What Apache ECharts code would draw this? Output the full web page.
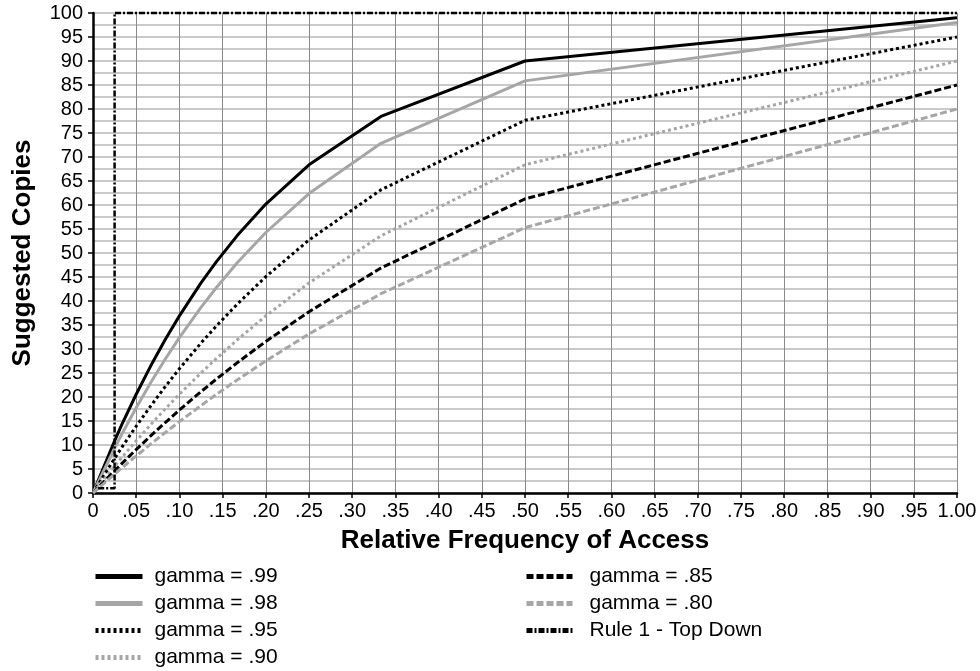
<!DOCTYPE html>
<html>
<head>
<meta charset="utf-8">
<script src="https://cdn.jsdelivr.net/npm/echarts@6/dist/echarts.min.js"></script>
<style>
html,body{margin:0;padding:0;background:#fff;}
#chart{width:980px;height:671px;}
</style>
</head>
<body>
<div id="chart"></div>
<script>
// Relative frequency of access (x) sample points
var freqs = [0, 0.025, 0.0333, 0.05, 0.0667, 0.0833, 0.1, 0.125, 0.1429, 0.1667, 0.2, 0.25, 0.3333, 0.5, 1];
// Suggested copies per gamma
var g99 = [0, 10.87, 14.23, 20.57, 26.44, 31.87, 36.90, 43.77, 48.21, 53.58, 60.19, 68.38, 78.46, 90.00, 99.00];
var g98 = [0, 9.32, 12.23, 17.77, 22.96, 27.82, 32.38, 38.67, 42.81, 47.90, 54.27, 62.39, 72.86, 85.86, 98.00];
var g95 = [0, 7.22, 9.50, 13.91, 18.10, 22.09, 25.89, 31.24, 34.82, 39.30, 45.07, 52.71, 63.16, 77.64, 95.00];
var g90 = [0, 5.59, 7.39, 10.87, 14.23, 17.46, 20.57, 25.01, 28.03, 31.87, 36.90, 43.77, 53.58, 68.38, 90.00];
var g85 = [0, 4.63, 6.13, 9.05, 11.88, 14.62, 17.28, 21.11, 23.74, 27.11, 31.57, 37.77, 46.87, 61.27, 85.00];
var g80 = [0, 3.94, 5.22, 7.73, 10.17, 12.55, 14.87, 18.22, 20.54, 23.53, 27.52, 33.13, 41.52, 55.28, 80.00];
// Rule 1 - Top Down
var ruleX = [0.006, 0.025, 0.025, 1];
var ruleY = [1, 1, 100, 100];

var names = ['gamma = .99', 'gamma = .98', 'gamma = .95', 'gamma = .90', 'gamma = .85', 'gamma = .80', 'Rule 1 - Top Down'];

function pairs(xs, ys) { return xs.map(function (x, i) { return [x, ys[i]]; }); }

var FONT = '"Liberation Sans", Arial, sans-serif';
var GRAY = '#a6a6a6';

function lineSeries(name, ys, color, type, width) {
  return {
    name: name, type: 'line', data: pairs(freqs, ys),
    symbol: 'none', showSymbol: false, silent: true,
    lineStyle: { color: color, width: width, type: type, cap: 'butt' },
    itemStyle: { color: color }
  };
}

var legendCommon = {
  orient: 'vertical', top: 566, padding: 0,
  itemHeight: 14, itemGap: 6, selectedMode: false,
  itemStyle: { opacity: 0 },
  lineStyle: { width: 5 }
};

var chart = echarts.init(document.getElementById('chart'), null, { renderer: 'canvas' });
chart.setOption({
  animation: false,
  backgroundColor: '#fff',
  textStyle: { fontFamily: FONT },
  grid: { left: 93, right: 23, top: 13, bottom: 178, containLabel: false },
  xAxis: {
    type: 'value', min: 0, max: 1, interval: 0.05,
    name: 'Relative Frequency of Access', nameLocation: 'middle', nameGap: 35,
    nameTextStyle: { fontSize: 26, fontWeight: 'bold', color: '#000', fontFamily: FONT },
    axisLine: { show: true, onZero: false, lineStyle: { color: '#000', width: 2.5 } },
    axisTick: { show: true, length: 5, lineStyle: { color: '#000', width: 1.5 } },
    axisLabel: {
      color: '#000', fontSize: 20, margin: 8, fontFamily: FONT, showMaxLabel: true, showMinLabel: true,
      formatter: function (v) {
        if (Math.abs(v) < 1e-9) return '0';
        if (Math.abs(v - 1) < 1e-9) return '1.00';
        var s = Math.round(v * 100);
        return '.' + (s < 10 ? '0' + s : '' + s);
      }
    },
    splitLine: { show: true, lineStyle: { color: '#8a8a8a', width: 1 } }
  },
  yAxis: {
    type: 'value', min: 0, max: 100, interval: 5,
    name: 'Suggested Copies', nameLocation: 'middle', nameGap: 57,
    nameTextStyle: { fontSize: 26, fontWeight: 'bold', color: '#000', fontFamily: FONT },
    axisLine: { show: true, lineStyle: { color: '#000', width: 2.5 } },
    axisTick: { show: true, length: 5, lineStyle: { color: '#000', width: 1.5 } },
    axisLabel: { color: '#000', fontSize: 20, margin: 10, fontFamily: FONT },
    splitLine: { show: true, lineStyle: { color: '#b8b8b8', width: 1.5 } },
    minorTick: { show: false, splitNumber: 2 },
    minorSplitLine: { show: true, lineStyle: { color: '#b8b8b8', width: 1.5 } }
  },
  legend: [
    Object.assign({}, legendCommon, {
      data: names.slice(0, 4), left: 93, itemWidth: 47,
      textStyle: { fontSize: 21, lineHeight: 20, color: '#000', fontFamily: FONT, padding: [0, 0, 0, 7] }
    }),
    Object.assign({}, legendCommon, {
      data: names.slice(4), left: 524, itemWidth: 46,
      textStyle: { fontSize: 21, lineHeight: 20, color: '#000', fontFamily: FONT, padding: [0, 0, 0, 12] }
    })
  ],
  series: [
    lineSeries(names[0], g99, '#000', 'solid', 3),
    lineSeries(names[1], g98, GRAY, 'solid', 3),
    lineSeries(names[2], g95, '#000', [3, 3], 3),
    lineSeries(names[3], g90, GRAY, [3, 3], 3),
    lineSeries(names[4], g85, '#000', [7, 3], 3),
    lineSeries(names[5], g80, GRAY, [7, 3], 3),
    {
      name: names[6], type: 'line', data: pairs(ruleX, ruleY),
      symbol: 'none', showSymbol: false, silent: true, clip: false,
      lineStyle: { color: '#000', width: 2.5, type: [6, 2, 2, 2], cap: 'butt' },
      itemStyle: { color: '#000' }
    }
  ]
});
</script>
</body>
</html>
